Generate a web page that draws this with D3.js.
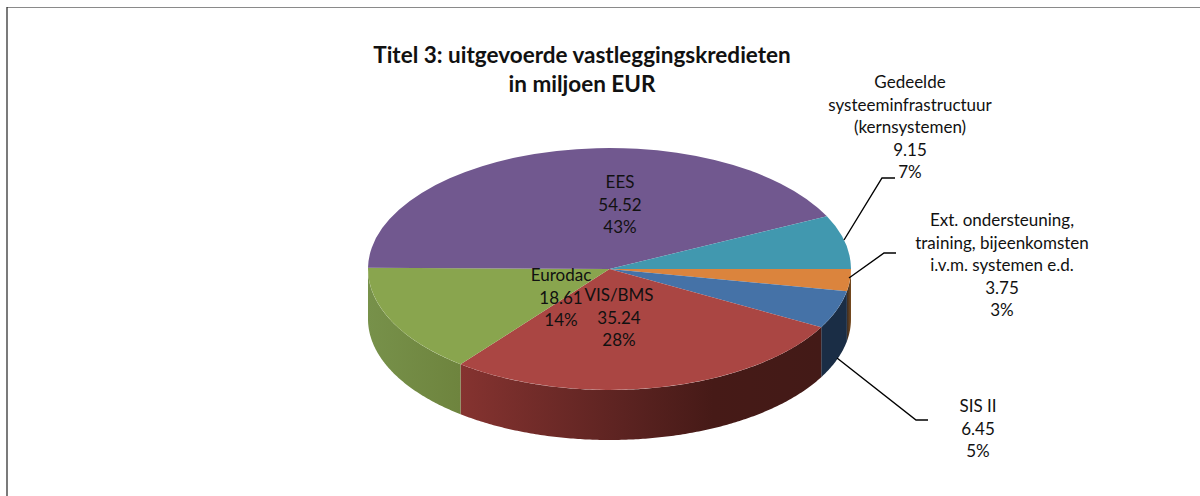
<!DOCTYPE html>
<html>
<head>
<meta charset="utf-8">
<style>
html, body { margin: 0; padding: 0; background: #fff; }
svg { display: block; }
text { font-family: Lato, "Open Sans", sans-serif; fill: #111; }
</style>
<script src="https://d3js.org/d3.v7.min.js"></script>
</head>
<body>
<div id="graph"></div>
<script>
// Data, clockwise from the right hand side of the pie
var categories = [
  ["Ext. ondersteuning,", "training, bijeenkomsten", "i.v.m. systemen e.d."],
  ["SIS II"],
  ["VIS/BMS"],
  ["Eurodac"],
  ["EES"],
  ["Gedeelde", "systeeminfrastructuur", "(kernsystemen)"]
];
var values = [3.75, 6.45, 35.24, 18.61, 54.52, 9.15];
var percents = ["3%", "5%", "28%", "14%", "43%", "7%"];
var titleLines = ["Titel 3: uitgevoerde vastleggingskredieten", "in miljoen EUR"];

// Styles per slice
var topColors = ["#db843d", "#4572a7", "#aa4643", "#89a54e", "#71588f", "#4198af"];
var sideStops = [
  [[0, "#3a2c24"], [1, "#7a4c1e"]],
  [[0, "#1a2d45"], [1, "#1a2d45"]],
  [[0, "#853330"], [0.45, "#5c2321"], [0.7, "#461a17"], [1, "#431a17"]],
  [[0, "#77914a"], [1, "#6e843e"]],
  [[0, "#554270"], [1, "#554270"]],
  [[0, "#30727f"], [1, "#30727f"]]
];

// Label centre of the first line and leader line for each slice
var labelPos = [[1002, 226], [978, 412], [619, 301], [561, 281], [620, 188], [910, 88]];
var leaders = [
  [[849, 278], [884, 253], [896, 253]],
  [[837, 358], [916, 420], [928, 420]],
  null,
  null,
  null,
  [[844, 240], [882, 178], [895, 178]]
];

var width = 1200, height = 496;
var cx = 609.5, cy = 269, rx = 241.5, ry = 121, depth = 50;
var lineHeight = 22.6;

var svg = d3.select("#graph")
  .append("svg")
  .attr("width", width)
  .attr("height", height);

// Frame of the original page
svg.append("line").attr("x1", 7).attr("y1", 7.5).attr("x2", width).attr("y2", 7.5)
  .attr("stroke", "#8a8a8a").attr("stroke-width", 1);
svg.append("line").attr("x1", 7).attr("y1", 7).attr("x2", 7).attr("y2", height)
  .attr("stroke", "#222").attr("stroke-width", 1.2);

// Pie starts at 3 o'clock and runs clockwise
var pie = d3.pie().sort(null).startAngle(Math.PI / 2).endAngle(Math.PI / 2 + 2 * Math.PI);
var slices = pie(values);

var defs = svg.append("defs");
sideStops.forEach(function(stops, i) {
  var g = defs.append("linearGradient").attr("id", "side" + i);
  stops.forEach(function(s) {
    g.append("stop").attr("offset", s[0]).attr("stop-color", s[1]);
  });
});

// Angle in d3.arc convention to a point on the rim
function rim(a, dy) {
  return [cx + rx * Math.sin(a), cy - ry * Math.cos(a) + dy];
}

// Outer wall, only the front half (pi/2 .. 3pi/2) is visible
var wall = svg.append("g");
slices.forEach(function(d, i) {
  var a0 = Math.max(d.startAngle, Math.PI / 2);
  var a1 = Math.min(d.endAngle, 3 * Math.PI / 2);
  if (a1 <= a0) return;
  var angles = d3.range(a0, a1, 0.01).concat([a1]);
  var upper = angles.map(function(a) { return rim(a, 0); });
  var lower = angles.slice().reverse().map(function(a) { return rim(a, depth); });
  wall.append("path")
    .attr("d", d3.line()(upper.concat(lower)) + "Z")
    .attr("fill", "url(#side" + i + ")");
});

// Top face: a normal d3 arc squashed into an ellipse
var arc = d3.arc().innerRadius(0).outerRadius(rx);
svg.append("g")
  .attr("transform", "translate(" + cx + "," + cy + ") scale(1," + (ry / rx) + ")")
  .selectAll("path")
  .data(slices)
  .enter()
  .append("path")
  .attr("d", arc)
  .attr("fill", function(d, i) { return topColors[i]; });

// Leader lines
leaders.forEach(function(pts) {
  if (!pts) return;
  svg.append("path")
    .attr("d", d3.line()(pts))
    .attr("fill", "none")
    .attr("stroke", "#000")
    .attr("stroke-width", 1.4);
});

// Data labels
categories.forEach(function(lines, i) {
  var all = lines.concat([values[i].toFixed(2), percents[i]]);
  all.forEach(function(t, j) {
    svg.append("text")
      .attr("x", labelPos[i][0])
      .attr("y", labelPos[i][1] + j * lineHeight)
      .attr("text-anchor", "middle")
      .style("font-size", "17px")
      .text(t);
  });
});

// Title
titleLines.forEach(function(t, j) {
  svg.append("text")
    .attr("x", 582)
    .attr("y", 63 + j * 29)
    .attr("text-anchor", "middle")
    .style("font-size", "22.5px")
    .style("font-weight", "bold")
    .text(t);
});
</script>
</body>
</html>
